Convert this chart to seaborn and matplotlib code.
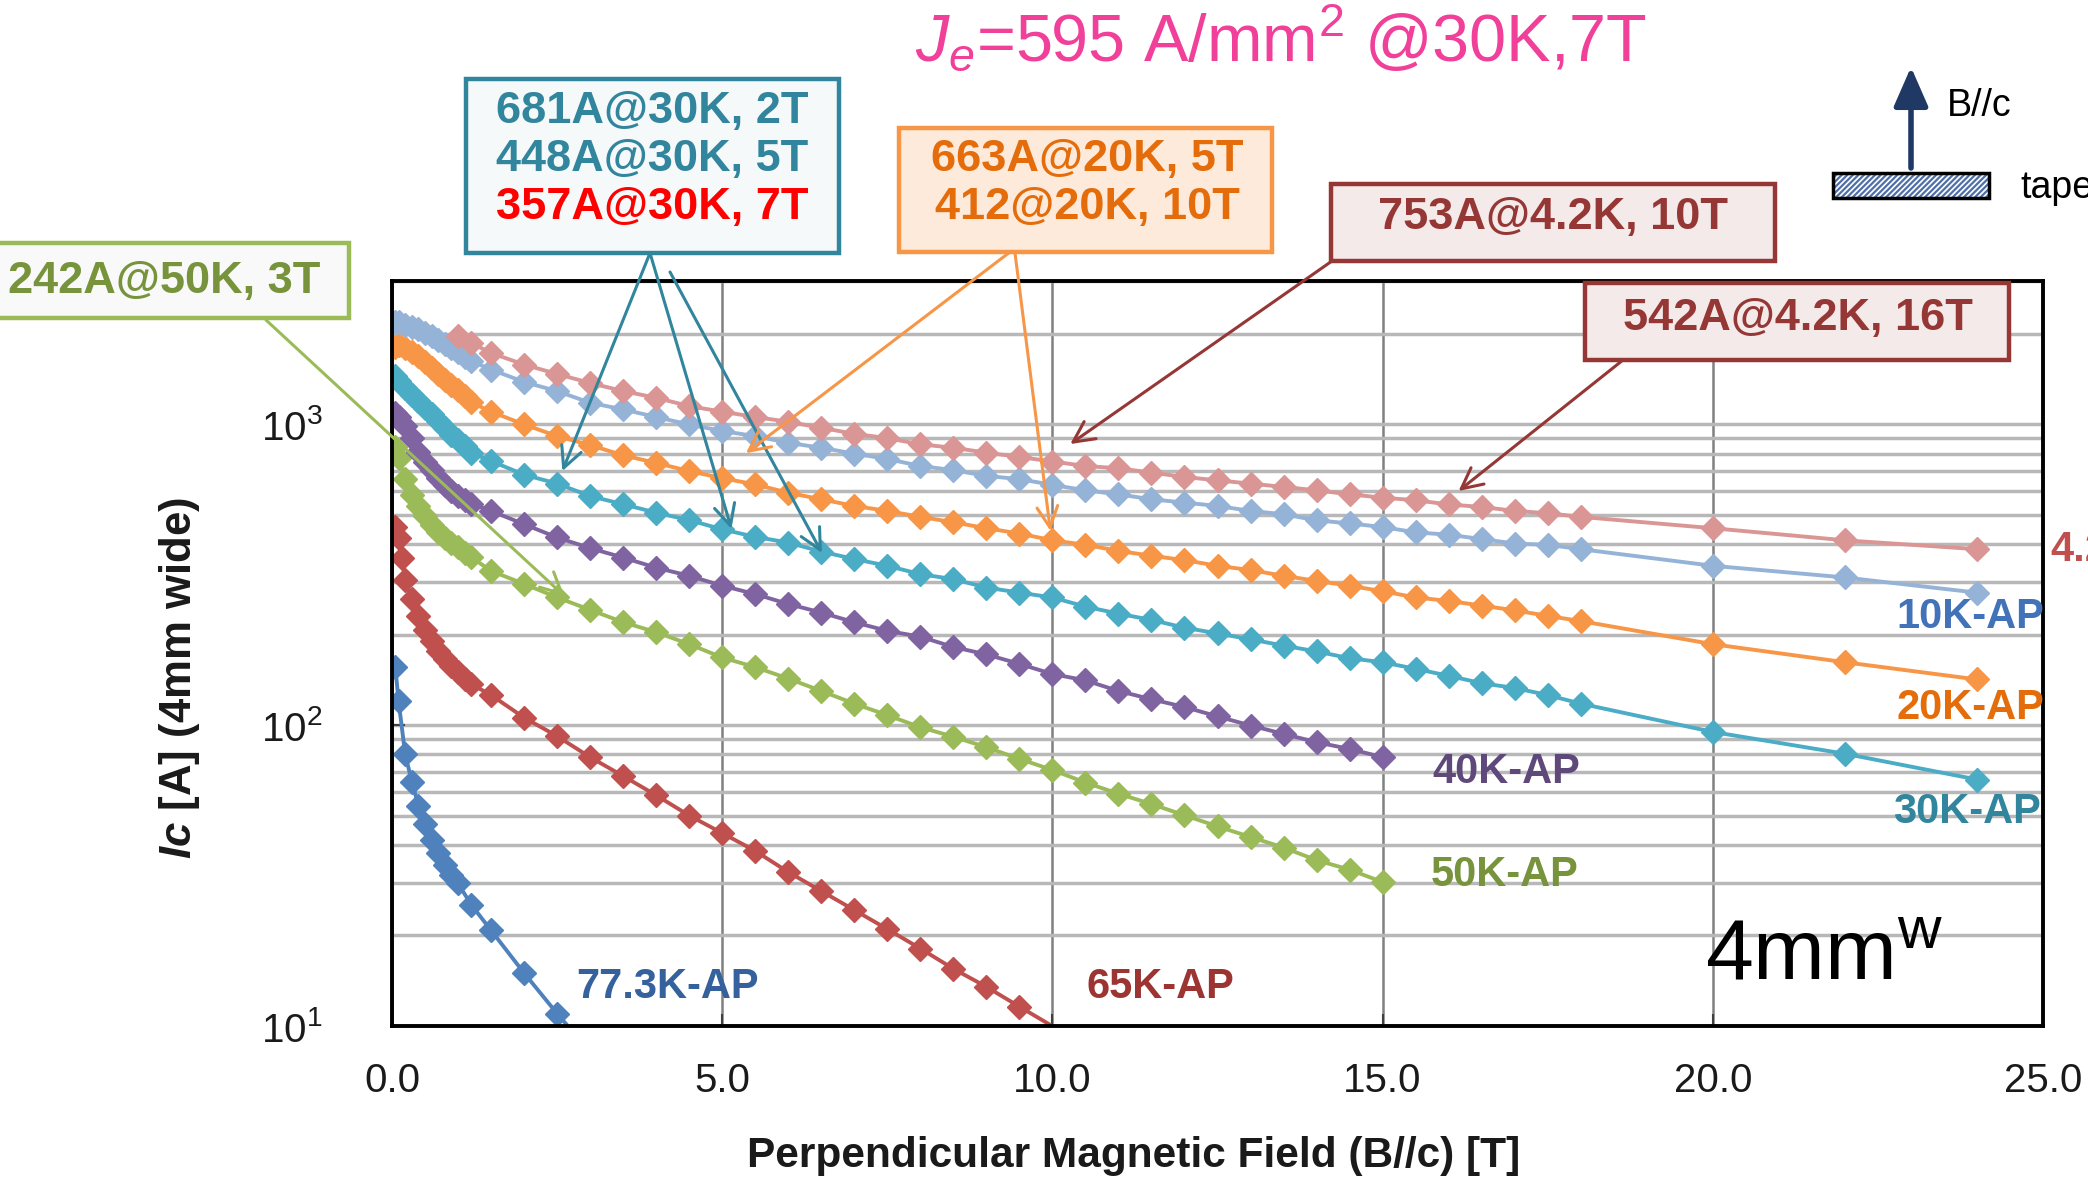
import matplotlib
matplotlib.use("Agg")
import matplotlib.pyplot as plt
import seaborn as sns
from matplotlib.patches import Rectangle
from matplotlib.ticker import FormatStrFormatter, LogLocator, NullFormatter

# ---------------- data ----------------
B_42 = [1.0, 1.2, 1.5, 2.0, 2.5, 3.0, 3.5, 4.0, 4.5, 5.0, 5.5, 6.0, 6.5, 7.0, 7.5, 8.0,
        8.5, 9.0, 9.5, 10.0, 10.5, 11.0, 11.5, 12.0, 12.5, 13.0, 13.5, 14.0, 14.5, 15.0,
        15.5, 16.0, 16.5, 17.0, 17.5, 18.0, 20.0, 22.0, 24.0]
Ic_42 = [1963, 1866, 1729, 1582, 1472, 1374, 1291, 1227, 1151, 1103, 1059, 1021, 975, 931,
         901, 859, 837, 806, 780, 753, 728, 715, 692, 669, 652, 636, 620, 604, 586, 571,
         560, 542, 532, 516, 507, 493, 452, 412, 385]

B_full = [0.05, 0.1, 0.2, 0.3, 0.4, 0.5, 0.6, 0.7, 0.8, 0.9, 1.0, 1.1, 1.2,
          1.5, 2.0, 2.5, 3.0, 3.5, 4.0, 4.5, 5.0, 5.5, 6.0, 6.5, 7.0, 7.5, 8.0, 8.5,
          9.0, 9.5, 10.0, 10.5, 11.0, 11.5, 12.0, 12.5, 13.0, 13.5, 14.0, 14.5, 15.0,
          15.5, 16.0, 16.5, 17.0, 17.5, 18.0, 20.0, 22.0, 24.0]
Ic_10 = [2200, 2190, 2150, 2110, 2070, 2020, 1970, 1910, 1855, 1800, 1740, 1680, 1625,
         1523, 1385, 1291, 1181, 1122, 1059, 1000, 951, 915, 869, 837, 800, 768, 728, 705,
         675, 658, 630, 604, 586, 564, 550, 536, 516, 503, 480, 469, 456,
         438, 430, 416, 402, 398, 385, 339, 310, 276]
Ic_20 = [1810, 1840, 1800, 1740, 1685, 1610, 1540, 1470, 1410, 1355, 1300, 1245, 1185,
         1103, 1000, 915, 854, 790, 745, 700, 663, 632, 593, 564, 536, 516, 493, 473,
         452, 434, 412, 398, 380, 366, 354, 339, 328, 314, 302, 291, 279,
         266, 259, 250, 241, 231, 222, 186, 162, 142]
Ic_30 = [1450, 1400, 1320, 1255, 1195, 1135, 1080, 1025, 975, 925, 885, 845, 805,
         756, 681, 636, 578, 543, 509, 481, 448, 423, 405, 378, 357, 339, 318, 306,
         287, 276, 266, 248, 235, 224, 211, 202, 193, 184, 176, 167, 162,
         154, 146, 138, 133, 126, 118, 95, 80.4, 66]

B_4050 = [0.05, 0.1, 0.2, 0.3, 0.4, 0.5, 0.6, 0.7, 0.8, 0.9, 1.0, 1.1, 1.2,
          1.5, 2.0, 2.5, 3.0, 3.5, 4.0, 4.5, 5.0, 5.5, 6.0, 6.5, 7.0, 7.5, 8.0, 8.5,
          9.0, 9.5, 10.0, 10.5, 11.0, 11.5, 12.0, 12.5, 13.0, 13.5, 14.0, 14.5, 15.0]
Ic_40 = [1090, 1060, 990, 905, 810, 750, 705, 665, 630, 600, 580, 560, 545,
         516, 466, 421, 388, 361, 334, 314, 291, 273, 253, 237, 220, 206, 197, 182,
         172, 160, 148, 141, 130, 122, 115, 107, 99.8, 93.6, 87.8, 83.4, 78.3]
Ic_50 = [840, 775, 660, 585, 535, 495, 465, 440, 420, 405, 390, 375, 362,
         326, 295, 266, 242, 220, 204, 186, 168, 156, 143, 130, 118, 108, 98.5, 91.6,
         84.5, 77.3, 71.0, 64.5, 59.2, 54.7, 50.2, 46.1, 42.5, 39.2, 35.6, 33.1, 30.1]

B_65 = [0.05, 0.1, 0.15, 0.2, 0.3, 0.4, 0.5, 0.6, 0.7, 0.8, 0.9, 1.0, 1.1, 1.2,
        1.5, 2.0, 2.5, 3.0, 3.5, 4.0, 4.5, 5.0, 5.5, 6.0, 6.5, 7.0, 7.5, 8.0, 8.5,
        9.0, 9.5, 10.5]
Ic_65 = [455, 420, 360, 305, 262, 230, 207, 190, 177, 166, 157, 150, 143, 137,
         126, 106, 92, 78.3, 67.8, 58.5, 50.1, 43.8, 38.2, 32.5, 28.1, 24.3, 21.0,
         18.1, 15.5, 13.5, 11.6, 8.6]

B_77 = [0.05, 0.1, 0.2, 0.3, 0.4, 0.5, 0.6, 0.7, 0.8, 0.9, 1.0, 1.2, 1.5, 2.0, 2.5, 3.0]
Ic_77 = [156, 120, 80, 65, 54, 47, 41.5, 37.5, 34.2, 31.7, 29.8, 25.3, 20.8, 15.0, 11.0, 8.2]

x_ticks = [0, 5, 10, 15, 20, 25]

# ---------------- style ----------------
plt.rcParams['font.family'] = ['Liberation Sans', 'DejaVu Sans']
plt.rcParams['mathtext.fontset'] = 'custom'
plt.rcParams['mathtext.rm'] = 'Liberation Sans'
plt.rcParams['mathtext.it'] = 'Liberation Sans:italic'
plt.rcParams['mathtext.bf'] = 'Liberation Sans:bold'
plt.rcParams['hatch.linewidth'] = 1.6
ylab = r'$\mathit{Ic}$ [A] (4mm wide)'
try:
    plt.rcParams['mathtext.bfit'] = 'Liberation Sans:bold:italic'
    ylab = r'$\mathbfit{Ic}$ [A] (4mm wide)'
except KeyError:
    pass

W, H = 2088, 1180
fig = plt.figure(figsize=(W / 100, H / 100), dpi=100)
fig.patch.set_facecolor('white')
L, R, T, Bt = 392, 2043, 281, 1026
ax = fig.add_axes([L / W, 1 - Bt / H, (R - L) / W, (Bt - T) / H])


def fx(x):
    return x / W


def fy(y):
    return 1 - y / H


series = [
    (B_77, Ic_77, '#4F81BD'),
    (B_65, Ic_65, '#C0504D'),
    (B_4050, Ic_50, '#9BBB59'),
    (B_4050, Ic_40, '#8064A2'),
    (B_full, Ic_30, '#4BACC6'),
    (B_full, Ic_20, '#F79646'),
    (B_full, Ic_10, '#95B3D7'),
    (B_42, Ic_42, '#D99694'),
]
for xs, ys, c in series:
    sns.lineplot(x=xs, y=ys, ax=ax, color=c, marker='D', markersize=12.5,
                 markeredgecolor=c, markeredgewidth=1, linewidth=2.8,
                 sort=False, estimator=None, legend=False, zorder=3)

ax.set_yscale('log')
ax.set_xlim(0, 25)
ax.set_ylim(10, 3000)
ax.set_xticks(x_ticks)
ax.xaxis.set_major_formatter(FormatStrFormatter('%.1f'))
ax.yaxis.set_major_locator(LogLocator(base=10, numticks=10))
ax.yaxis.set_minor_locator(LogLocator(base=10, subs=range(2, 10), numticks=100))
ax.yaxis.set_minor_formatter(NullFormatter())
ax.set_axisbelow(True)
ax.grid(True, which='both', axis='y', color='#B8B8B8', lw=2.5)
ax.grid(True, which='major', axis='x', color='#808080', lw=1.8)
ax.tick_params(axis='both', which='major', direction='in', length=9, width=1.5,
               labelsize=29, color='#404040', labelcolor='#1A1A1A')
ax.tick_params(axis='y', which='minor', length=0)
ax.tick_params(axis='x', pad=26)
ax.tick_params(axis='y', pad=50)
ax.set_xlabel('')
ax.set_ylabel('')
for s in ax.spines.values():
    s.set_linewidth(2.8)
    s.set_color('black')
    s.set_zorder(4)

# axis labels
fig.text(fx(1134), fy(1156), 'Perpendicular Magnetic Field (B//c) [T]', ha='center',
         va='center', fontsize=30.5, fontweight='bold', color='#1A1A1A')
fig.text(fx(180), fy(678), ylab, rotation=90, ha='center', va='center',
         fontsize=31.5, fontweight='bold', color='#1A1A1A')

# title
fig.text(fx(1281), fy(62), r'$J_e$=595 A/mm$^2$ @30K,7T', ha='center', va='baseline',
         fontsize=48, color='#F0409A')

# series labels
labels = [
    ('77.3K-AP', 576, 987, '#35619C'),
    ('65K-AP', 1086, 987, '#9C3532'),
    ('40K-AP', 1432, 772, '#5F497A'),
    ('50K-AP', 1431, 875, '#77933C'),
    ('10K-AP', 1896, 617, '#4272B8'),
    ('20K-AP', 1896, 708, '#E46C0A'),
    ('30K-AP', 1893, 812, '#31859C'),
    ('4.2K-AP', 2050, 550, '#C0504D'),
]
for txt, x, y, c in labels:
    fig.text(fx(x), fy(y), txt, ha='left', va='center', fontsize=30,
             fontweight='bold', color=c, zorder=6)

fig.text(fx(1705), fy(980), r'4mm$^{\mathrm{w}}$', ha='left', va='baseline',
         fontsize=62, color='black', zorder=6)


# annotation boxes
def box(x0, y0, x1, y1, edge, face, lw=3.2):
    fig.add_artist(Rectangle((fx(x0), fy(y1)), (x1 - x0) / W, (y1 - y0) / H,
                             transform=fig.transFigure, facecolor=face,
                             edgecolor=edge, lw=lw, zorder=7))


def btxt(x, y, s, c, size=32.5):
    fig.text(fx(x), fy(y), s, ha='center', va='center', fontsize=size,
             fontweight='bold', color=c, zorder=8)


def arrow(x0, y0, tip, c):
    ax.annotate('', xy=tip, xycoords='data', xytext=(x0, H - y0),
                textcoords='figure pixels', annotation_clip=False,
                arrowprops=dict(arrowstyle='->,head_length=0.5,head_width=0.25',
                                color=c, lw=2.2, mutation_scale=30,
                                shrinkA=0, shrinkB=0), zorder=6)


box(-5, 243, 349, 318, '#9BBB59', '#F9F9F9')
btxt(164, 281, '242A@50K, 3T', '#77933C')
arrow(266, 320, (2.61, 269), '#9BBB59')

box(466, 79, 839, 253, '#31859C', '#F6F9FA')
btxt(652, 112, '681A@30K, 2T', '#31859C')
btxt(652, 160, '448A@30K, 5T', '#31859C')
btxt(652, 208, '357A@30K, 7T', '#FF0000')
arrow(650, 253, (2.58, 700), '#31859C')
arrow(650, 253, (5.14, 450), '#31859C')
arrow(670, 272, (6.51, 374), '#31859C')

box(899, 128, 1272, 252, '#F79646', '#FDEADA')
btxt(1087, 160, '663A@20K, 5T', '#E46C0A')
btxt(1087, 208, '412@20K, 10T', '#E46C0A')
arrow(1010, 252, (5.36, 803), '#F79646')
arrow(1015, 253, (9.97, 443), '#F79646')

box(1331, 184, 1775, 261, '#953735', '#F5EAEA')
btxt(1553, 218, '753A@4.2K, 10T', '#953735')
arrow(1332, 261, (10.27, 861), '#953735')

box(1585, 283, 2009, 360, '#953735', '#F5EAEA')
btxt(1798, 318, '542A@4.2K, 16T', '#953735')
arrow(1623, 360, (16.15, 601), '#953735')

# B//c inset
ax.annotate('', xy=(1911, H - 67), xycoords='figure pixels', xytext=(1911, H - 168),
            textcoords='figure pixels', annotation_clip=False,
            arrowprops=dict(arrowstyle='-|>,head_length=0.8,head_width=0.35',
                            color='#1F3864', lw=4, mutation_scale=30,
                            shrinkA=0, shrinkB=0))
fig.text(fx(1947), fy(106), 'B//c', ha='left', va='center', fontsize=27, color='black')
fig.add_artist(Rectangle((fx(1833), fy(198)), 156 / W, 25 / H, transform=fig.transFigure,
                         facecolor='white', edgecolor='#4F6FA8', hatch='//////', lw=0))
fig.add_artist(Rectangle((fx(1833), fy(198)), 156 / W, 25 / H, transform=fig.transFigure,
                         facecolor='none', edgecolor='black', lw=2.5))
fig.text(fx(2020), fy(188), 'tape', ha='left', va='center', fontsize=27, color='black')

fig.savefig('out.png', dpi=100)
